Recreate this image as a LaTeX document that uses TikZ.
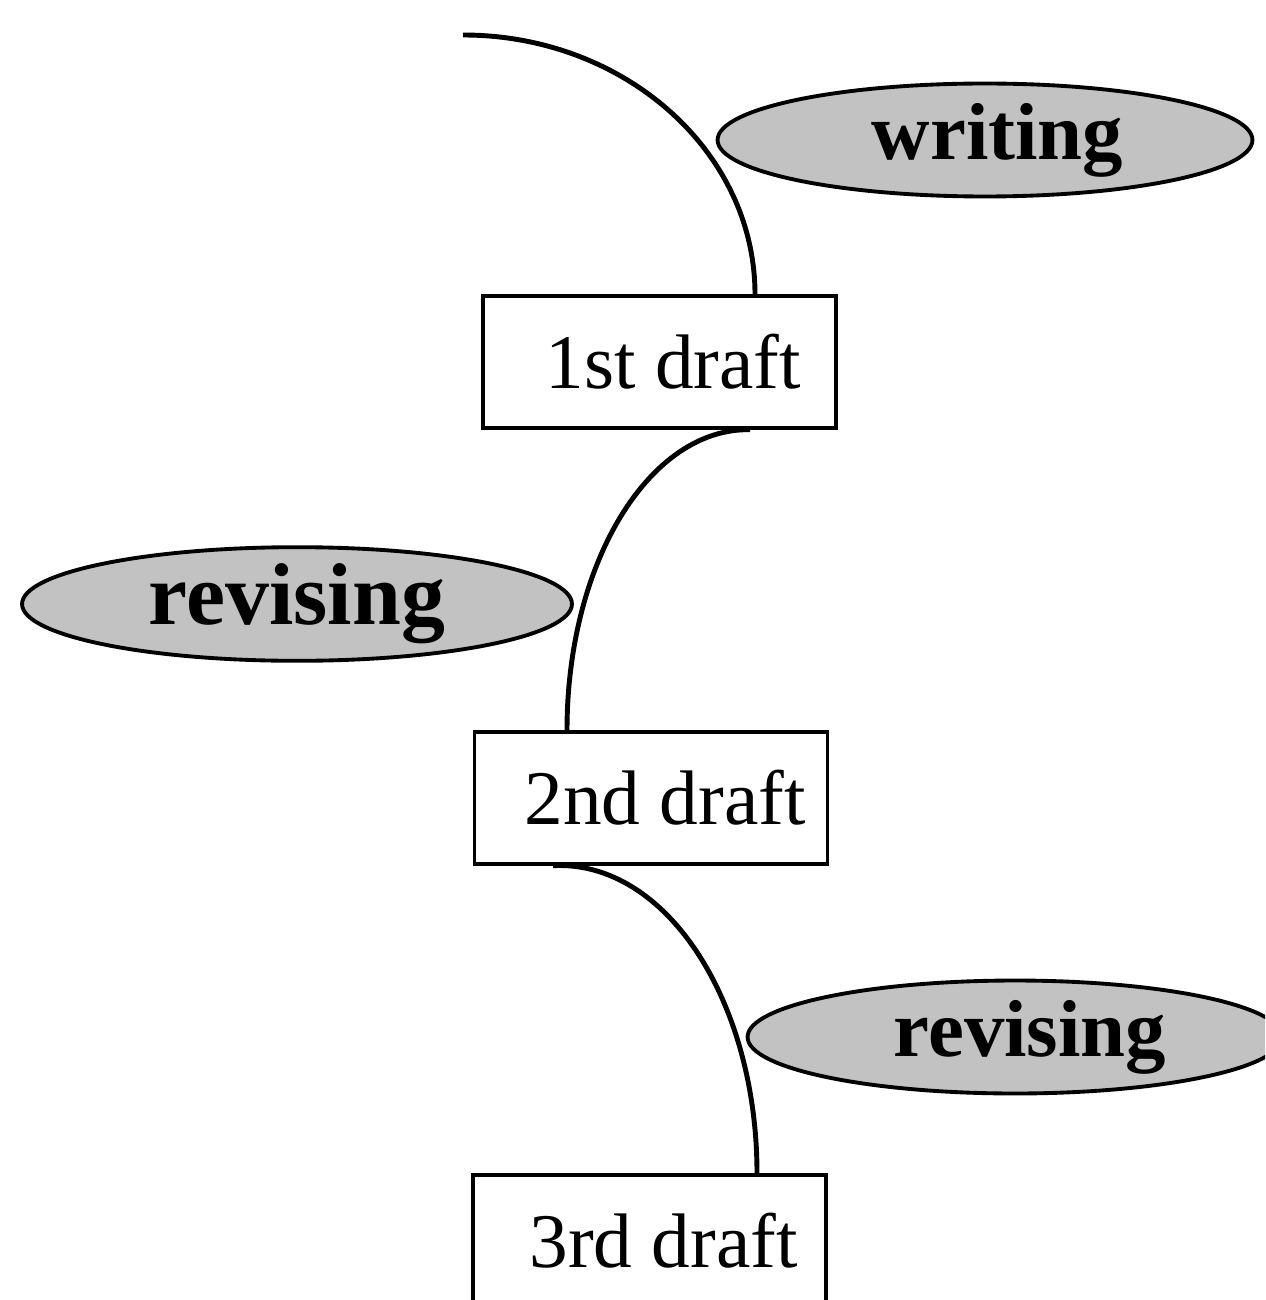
\documentclass[tikz,border=0pt]{standalone}
\usepackage{fontspec}
\setmainfont{Liberation Serif}
\usetikzlibrary{shapes.geometric,calc}
\tikzset{
  draftbox/.style={draw=black, line width=1.9pt, fill=white, rectangle, inner sep=0pt,
    minimum width=7.06cm, minimum height=2.64cm, font=\fontsize{44}{50}\selectfont},
  actoval/.style={draw=black, line width=2.2pt, fill=black!24, ellipse, inner sep=0pt,
    minimum width=10.7cm, minimum height=2.26cm, font=\fontsize{46}{52}\selectfont\bfseries},
  flow/.style={draw=black, line width=2.8pt}
}
\begin{document}
\begin{tikzpicture}[x=0.02cm, y=-0.02cm]
\useasboundingbox (0,0) rectangle (1265,1300);
\clip (0,0) rectangle (1265,1300);
% ellipses
\node[actoval] (w) at (985,140) {\hspace*{0.25cm}writing\hspace*{-0.25cm}};
\node[actoval, minimum width=11.0cm, font=\fontsize{50}{56}\selectfont\bfseries] (r1) at (297,604) {revising};
\node[actoval] (r2) at (1015,1037) {\hspace*{0.3cm}revising\hspace*{-0.3cm}};
% boxes
\node[draftbox] (b1) at (659.5,362) {\hspace*{0.28cm}1st draft\hspace*{-0.28cm}};
\node[draftbox] (b2) at (651,798) {\hspace*{0.28cm}2nd draft\hspace*{-0.28cm}};
\node[draftbox] (b3) at (649.5,1241) {\hspace*{0.28cm}3rd draft\hspace*{-0.28cm}};
% connectors
\coordinate (s) at (463,35);
\coordinate (b1t) at ($(b1.north)+(95.5,0)$);
\coordinate (b1b) at ($(b1.south)+(90.5,0)$);
\coordinate (b2t) at ($(b2.north)+(-84,0)$);
\coordinate (b2b) at ($(b2.south)+(-98,0)$);
\coordinate (b3t) at ($(b3.north)+(107.5,0)$);
\draw[flow] (s) .. controls (624,35) and (755,151) .. (b1t);
\draw[flow] (b1b) .. controls (649,428) and (567,563) .. (b2t);
\draw[flow] (b2b) .. controls (666,860) and (757,1001) .. (b3t);
\end{tikzpicture}
\end{document}
